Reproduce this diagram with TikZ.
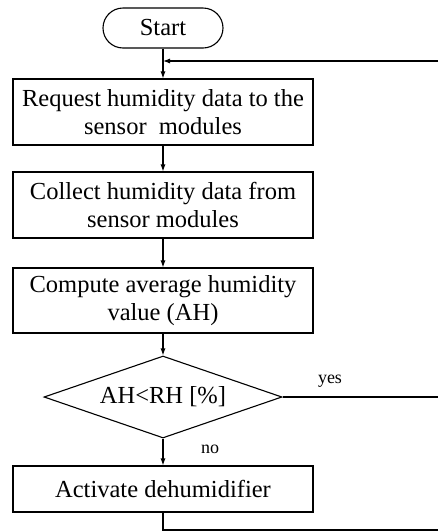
\documentclass[tikz,border=0pt]{standalone}
\usepackage{fontspec}
\setmainfont{Liberation Serif}
\usetikzlibrary{shapes.geometric,arrows.meta}
\begin{document}
\begin{tikzpicture}[x=1pt,y=-1pt,
  every node/.style={font=\fontsize{24.5}{28}\selectfont},
  box/.style={draw,line width=1.1pt,minimum width=300pt,inner sep=0pt,align=center},
  arr/.style={line width=1.1pt,-{Latex[length=7pt,width=5pt]}},
  ln/.style={line width=1.1pt},
  lbl/.style={font=\fontsize{18}{20}\selectfont,inner sep=0pt}]
\useasboundingbox (0,0) rectangle (439,531);
\node[draw,line width=1.1pt,rounded corners=20pt,minimum width=120pt,minimum height=40pt,inner sep=0pt] (start) at (163,28) {Start};
\node[box,minimum height=66pt] (req) at (163,112) {Request humidity data to the\\sensor\ \ modules};
\node[box,minimum height=66pt] (col) at (163,205) {Collect humidity data from\\sensor modules};
\node[box,minimum height=65pt] (comp) at (163,300.5) {Compute average humidity\\value (AH)};
\node[draw,line width=1.1pt,diamond,shape aspect=2.9,minimum width=238pt,minimum height=82pt,inner sep=0pt] (dec) at (163,397) {AH<RH [\%]};
\node[box,minimum height=46pt] (act) at (163,489) {Activate dehumidifier};
\node[lbl] (yes) at (330,381) {yes};
\node[lbl] (no) at (210,449) {no};
\coordinate (loopend) at (438,61);
\coordinate (yesend) at (438,397);
\coordinate (botend) at (438,530);
\draw[arr] (start) -- (req);
\draw[arr] (loopend) -- (loopend -| start.south);
\draw[arr] (req) -- (col);
\draw[arr] (col) -- (comp);
\draw[arr] (comp) -- (dec);
\draw[arr] (dec) -- (act);
\draw[ln] (dec.east) -- (yesend);
\draw[ln] (act.south) |- (botend);
\end{tikzpicture}
\end{document}
